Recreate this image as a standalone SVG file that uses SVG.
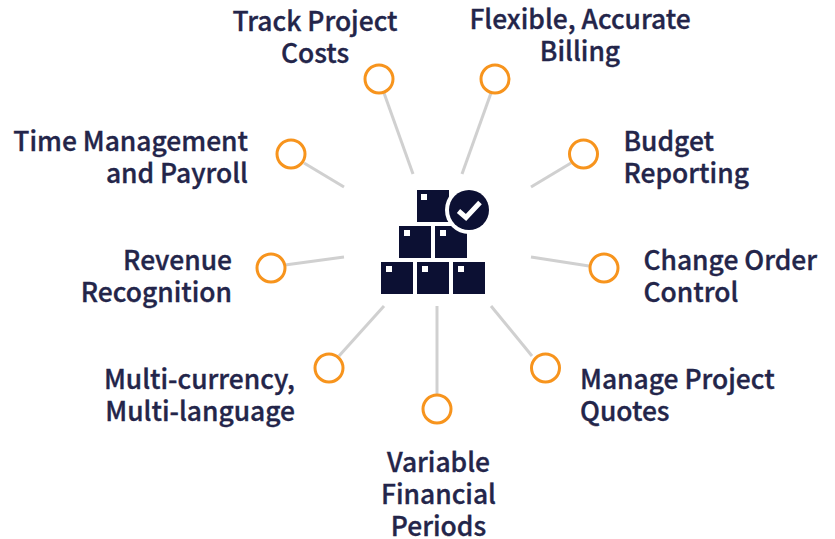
<svg xmlns="http://www.w3.org/2000/svg" width="835" height="539" viewBox="0 0 835 539">
<style>
.c{fill:#fff;stroke:#f7941d;stroke-width:3}
.l{stroke:#d0d0d0;stroke-width:3;fill:none}
text{font-family:"Noto Sans CJK SC","Noto Sans",sans-serif;font-weight:500;font-size:26.4px;fill:#23254a;stroke:#23254a;stroke-width:.35px}
.b{fill:#0c1033}
.w{fill:#fff}
</style>
<rect width="835" height="539" fill="#fff"/>
<g id="connectors">
<line class="l" x1="384" y1="93" x2="413" y2="174"/>
<line class="l" x1="491" y1="93" x2="462" y2="174"/>
<line class="l" x1="571" y1="163" x2="531" y2="187"/>
<line class="l" x1="589" y1="266" x2="531" y2="257"/>
<line class="l" x1="532" y1="356" x2="491" y2="306"/>
<line class="l" x1="437" y1="394" x2="437" y2="306"/>
<line class="l" x1="339" y1="356" x2="384" y2="306"/>
<line class="l" x1="285" y1="265" x2="344" y2="257"/>
<line class="l" x1="304" y1="163" x2="344" y2="187"/>
</g>
<g id="hub">
<rect class="b" x="381" y="262" width="32" height="32"/><rect class="w" x="386" y="266" width="6" height="6"/>
<rect class="b" x="417" y="262" width="32" height="32"/><rect class="w" x="422" y="266" width="6" height="6"/>
<rect class="b" x="453" y="262" width="32" height="32"/><rect class="w" x="458" y="266" width="6" height="6"/>
<rect class="b" x="399" y="226" width="32" height="32"/><rect class="w" x="404" y="230" width="6" height="6"/>
<rect class="b" x="435" y="226" width="32" height="32"/><rect class="w" x="440" y="230" width="6" height="6"/>
<rect class="b" x="417" y="190" width="32" height="32"/><rect class="w" x="421" y="194" width="6" height="6"/>
<circle class="w" cx="469" cy="210" r="24"/>
<circle class="b" cx="469" cy="210" r="20"/>
<path d="M458.500 211l7.500 6.500 14-15" fill="none" stroke="#fff" stroke-width="5"/>
</g>
<g id="n1"><circle class="c" cx="379" cy="79" r="14"/><text x="315" y="31" text-anchor="middle">Track Project</text><text x="315" y="63" text-anchor="middle">Costs</text></g>
<g id="n2"><circle class="c" cx="495" cy="79" r="14"/><text x="580" y="29" text-anchor="middle">Flexible, Accurate</text><text x="580" y="61" text-anchor="middle">Billing</text></g>
<g id="n3"><circle class="c" cx="583.500" cy="154" r="14"/><text x="623.500" y="151">Budget</text><text x="623.500" y="183">Reporting</text></g>
<g id="n4"><circle class="c" cx="604" cy="268" r="14"/><text x="643.500" y="270">Change Order</text><text x="643.500" y="302">Control</text></g>
<g id="n5"><circle class="c" cx="545.500" cy="368" r="14"/><text x="580" y="389">Manage Project</text><text x="580" y="421">Quotes</text></g>
<g id="n6"><circle class="c" cx="437" cy="409" r="14"/><text x="438.500" y="472" text-anchor="middle">Variable</text><text x="438.500" y="504" text-anchor="middle">Financial</text><text x="438.500" y="536" text-anchor="middle">Periods</text></g>
<g id="n7"><circle class="c" cx="329" cy="368" r="14"/><text x="295" y="389" text-anchor="end">Multi-currency,</text><text x="295" y="421" text-anchor="end">Multi-language</text></g>
<g id="n8"><circle class="c" cx="271" cy="268" r="14"/><text x="232" y="270" text-anchor="end">Revenue</text><text x="232" y="302" text-anchor="end">Recognition</text></g>
<g id="n9"><circle class="c" cx="291" cy="154" r="14"/><text x="248" y="151" text-anchor="end">Time Management</text><text x="248" y="183" text-anchor="end">and Payroll</text></g>
</svg>
